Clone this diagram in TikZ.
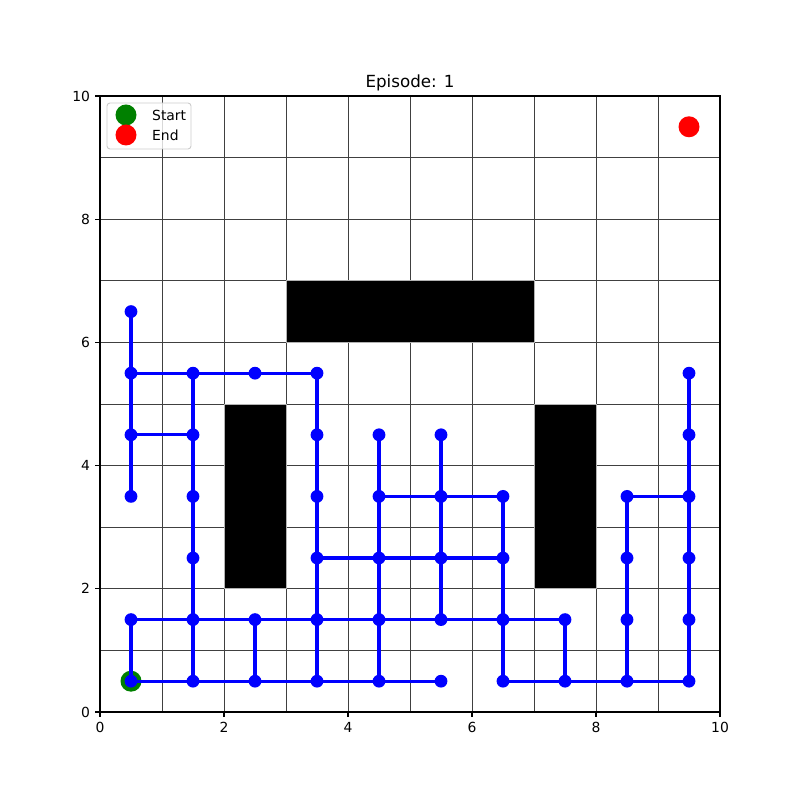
\documentclass[tikz,border=0pt]{standalone}
\usepackage{fontspec}
\setmainfont{DejaVu Sans}
\begin{document}
\begin{tikzpicture}[x=62pt,y=61.6pt,
  gridline/.style={draw=black!75,line width=0.7pt},
  obstacle/.style={fill=black,draw=black!30,line width=0.6pt},
  pathline/.style={draw=blue,line width=3.3pt},
  dot/.style={circle,fill=blue,inner sep=0pt,minimum size=12.8pt},
  bigdot/.style={circle,inner sep=0pt,minimum size=21pt},
  ticklab/.style={font=\fontsize{13.9}{16}\selectfont,inner sep=0pt},
  tickmark/.style={line width=1.1pt}]
\useasboundingbox (-100pt,-88pt) rectangle (700pt,712pt);
\fill[white] (-100pt,-88pt) rectangle (700pt,712pt);
% grid
\foreach \i in {1,...,9} {
  \draw[gridline] (\i,0) -- (\i,10);
  \draw[gridline] (0,\i) -- (10,\i);
}
% obstacles
\draw[obstacle] (3,6) rectangle (7,7);
\draw[obstacle] (2,2) rectangle (3,5);
\draw[obstacle] (7,2) rectangle (8,5);
% cell centres
\foreach \i in {0,...,9} {
  \foreach \j in {0,...,9} {
    \coordinate (c-\i-\j) at (\i+0.5,\j+0.5);
  }
}
% start
\node[bigdot,fill=green!50!black] (start) at (c-0-0) {};
% path edges
\foreach \a/\b in {0-6/0-5,0-5/0-4,0-4/0-3,0-1/0-0,
  1-5/1-4,1-4/1-3,1-3/1-2,1-2/1-1,1-1/1-0,
  2-1/2-0,
  3-5/3-4,3-4/3-3,3-3/3-2,3-2/3-1,3-1/3-0,
  4-4/4-3,4-3/4-2,4-2/4-1,4-1/4-0,
  5-4/5-3,5-3/5-2,5-2/5-1,
  6-3/6-2,6-2/6-1,6-1/6-0,
  7-1/7-0,
  8-3/8-2,8-2/8-1,8-1/8-0,
  9-5/9-4,9-4/9-3,9-3/9-2,9-2/9-1,9-1/9-0,
  0-5/1-5,1-5/2-5,2-5/3-5,
  0-4/1-4,
  4-3/5-3,5-3/6-3,8-3/9-3,
  3-2/4-2,4-2/5-2,5-2/6-2,
  0-1/1-1,1-1/2-1,2-1/3-1,3-1/4-1,4-1/5-1,5-1/6-1,6-1/7-1,
  0-0/1-0,1-0/2-0,2-0/3-0,3-0/4-0,4-0/5-0,6-0/7-0,7-0/8-0,8-0/9-0} {
  \draw[pathline] (c-\a) -- (c-\b);
}
% path dots
\foreach \p in {0-6,0-5,1-5,2-5,3-5,0-4,1-4,3-4,0-3,1-3,3-3,1-2,3-2,
  0-1,1-1,2-1,3-1,0-0,1-0,2-0,3-0,
  4-4,5-4,4-3,5-3,6-3,4-2,5-2,6-2,4-1,5-1,6-1,7-1,4-0,5-0,6-0,7-0,
  8-3,8-2,8-1,8-0,9-5,9-4,9-3,9-2,9-1,9-0} {
  \node[dot] (d-\p) at (c-\p) {};
}
% end
\node[bigdot,fill=red] (end) at (c-9-9) {};
% axes frame
\draw[line width=1.1pt] (0,0) rectangle (10,10);
% ticks and labels
\foreach \v in {0,2,4,6,8,10} {
  \draw[tickmark] (\v,0) -- ++(0,-4.9pt);
  \node[ticklab,anchor=north] (xl-\v) at ([yshift=-9.8pt]\v,0) {\v};
  \draw[tickmark] (0,\v) -- ++(-4.9pt,0);
  \node[ticklab,anchor=east] (yl-\v) at ([xshift=-9.8pt]0,\v) {\v};
}
% title
\node[font=\fontsize{16.7}{19}\selectfont,anchor=base,inner sep=0pt] (title) at (310pt,624pt) {Episode: 1};
% legend
\draw[rounded corners=3pt,fill=white,fill opacity=0.8,draw=black!20,line width=0.9pt] (7pt,563pt) rectangle (91pt,609pt);
\node[bigdot,fill=green!50!black] (lg-start) at (26pt,597pt) {};
\node[bigdot,fill=red] (lg-end) at (26pt,577pt) {};
\node[ticklab,anchor=west] (lt-start) at (52pt,597pt) {Start};
\node[ticklab,anchor=west] (lt-end) at (52pt,577pt) {End};
\end{tikzpicture}
\end{document}
